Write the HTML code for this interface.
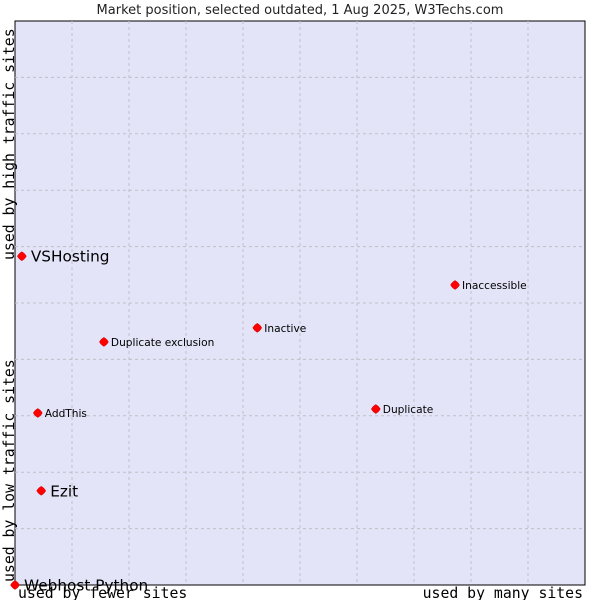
<!DOCTYPE html>
<html><head><meta charset="utf-8"><style>
body{margin:0;background:#fff;width:600px;height:600px;overflow:hidden}
svg{display:block}
</style></head><body>
<svg id="chart" width="600" height="600" xmlns="http://www.w3.org/2000/svg">
<text x="300" y="14" text-anchor="middle" font-family="DejaVu Sans, sans-serif" font-size="13" fill="#222">Market position, selected outdated, 1 Aug 2025, W3Techs.com</text>
<rect x="15" y="21" width="570" height="564" fill="#e3e4f8" stroke="#000" stroke-width="1"/>
<g id="grid"></g>
<text x="18" y="598" font-family="DejaVu Sans Mono, monospace" font-size="14.8" fill="#000">used by fewer sites</text>
<text x="583" y="598" text-anchor="end" font-family="DejaVu Sans Mono, monospace" font-size="14.8" fill="#000">used by many sites</text>
<text transform="translate(14,582) rotate(-90)" font-family="DejaVu Sans Mono, monospace" font-size="14.8" fill="#000">used by low traffic sites</text>
<text transform="translate(14,260) rotate(-90)" font-family="DejaVu Sans Mono, monospace" font-size="14.8" fill="#000">used by high traffic sites</text>
<g id="points"></g>
</svg>
<script>
const names=["VSHosting","Inaccessible","Inactive","Duplicate exclusion","AddThis","Duplicate","Ezit","Webhost Python"];
const xVals=[1.2,77.2,42.5,15.6,4.0,63.3,4.6,0];
const yVals=[58.3,53.2,45.6,43.1,30.5,31.2,16.7,0];
const bigLabel=[true,false,false,false,false,false,true,true];
const NS="http://www.w3.org/2000/svg";
const X0=15,X1=585,Y0=585,Y1=21;
const sx=v=>X0+(X1-X0)*v/100, sy=v=>Y0-(Y0-Y1)*v/100;
const grid=document.getElementById('grid');
for(let i=1;i<10;i++){
 const l=document.createElementNS(NS,'line');
 
 
 l.setAttribute('x1',sx(i*10));l.setAttribute('x2',sx(i*10));l.setAttribute('y1',Y1);l.setAttribute('y2',Y0);
 l.setAttribute('stroke','#c0c0c8');l.setAttribute('stroke-dasharray','3,3');grid.appendChild(l);
 const h=document.createElementNS(NS,'line');
 
 
 h.setAttribute('x1',X0);h.setAttribute('x2',X1);h.setAttribute('y1',sy(i*10));h.setAttribute('y2',sy(i*10));
 h.setAttribute('stroke','#c0c0c8');h.setAttribute('stroke-dasharray','3,3');grid.appendChild(h);
}
const pts=document.getElementById('points');
names.forEach((n,i)=>{
 const x=sx(xVals[i]),y=sy(yVals[i]);
 const d=document.createElementNS(NS,'path');
 
 
 d.setAttribute('d',`M${x-4.5},${y} Q${x-3},${y-3} ${x},${y-4.5} Q${x+3},${y-3} ${x+4.5},${y} Q${x+3},${y+3} ${x},${y+4.5} Q${x-3},${y+3} ${x-4.5},${y} Z`);
 d.setAttribute('fill','#ff0000');d.setAttribute('stroke','#c00');d.setAttribute('stroke-width','0.5');
 pts.appendChild(d);
 const t=document.createElementNS(NS,'text');
 
 
 const big=bigLabel[i];
 t.setAttribute('x',x+(big?9:7));t.setAttribute('y',y+(big?5.5:4));
 t.setAttribute('font-family','DejaVu Sans, sans-serif');
 t.setAttribute('font-size',big?'15.3':'10.6');t.setAttribute('fill','#000');
 t.textContent=n;pts.appendChild(t);
});
</script>
</body></html>
